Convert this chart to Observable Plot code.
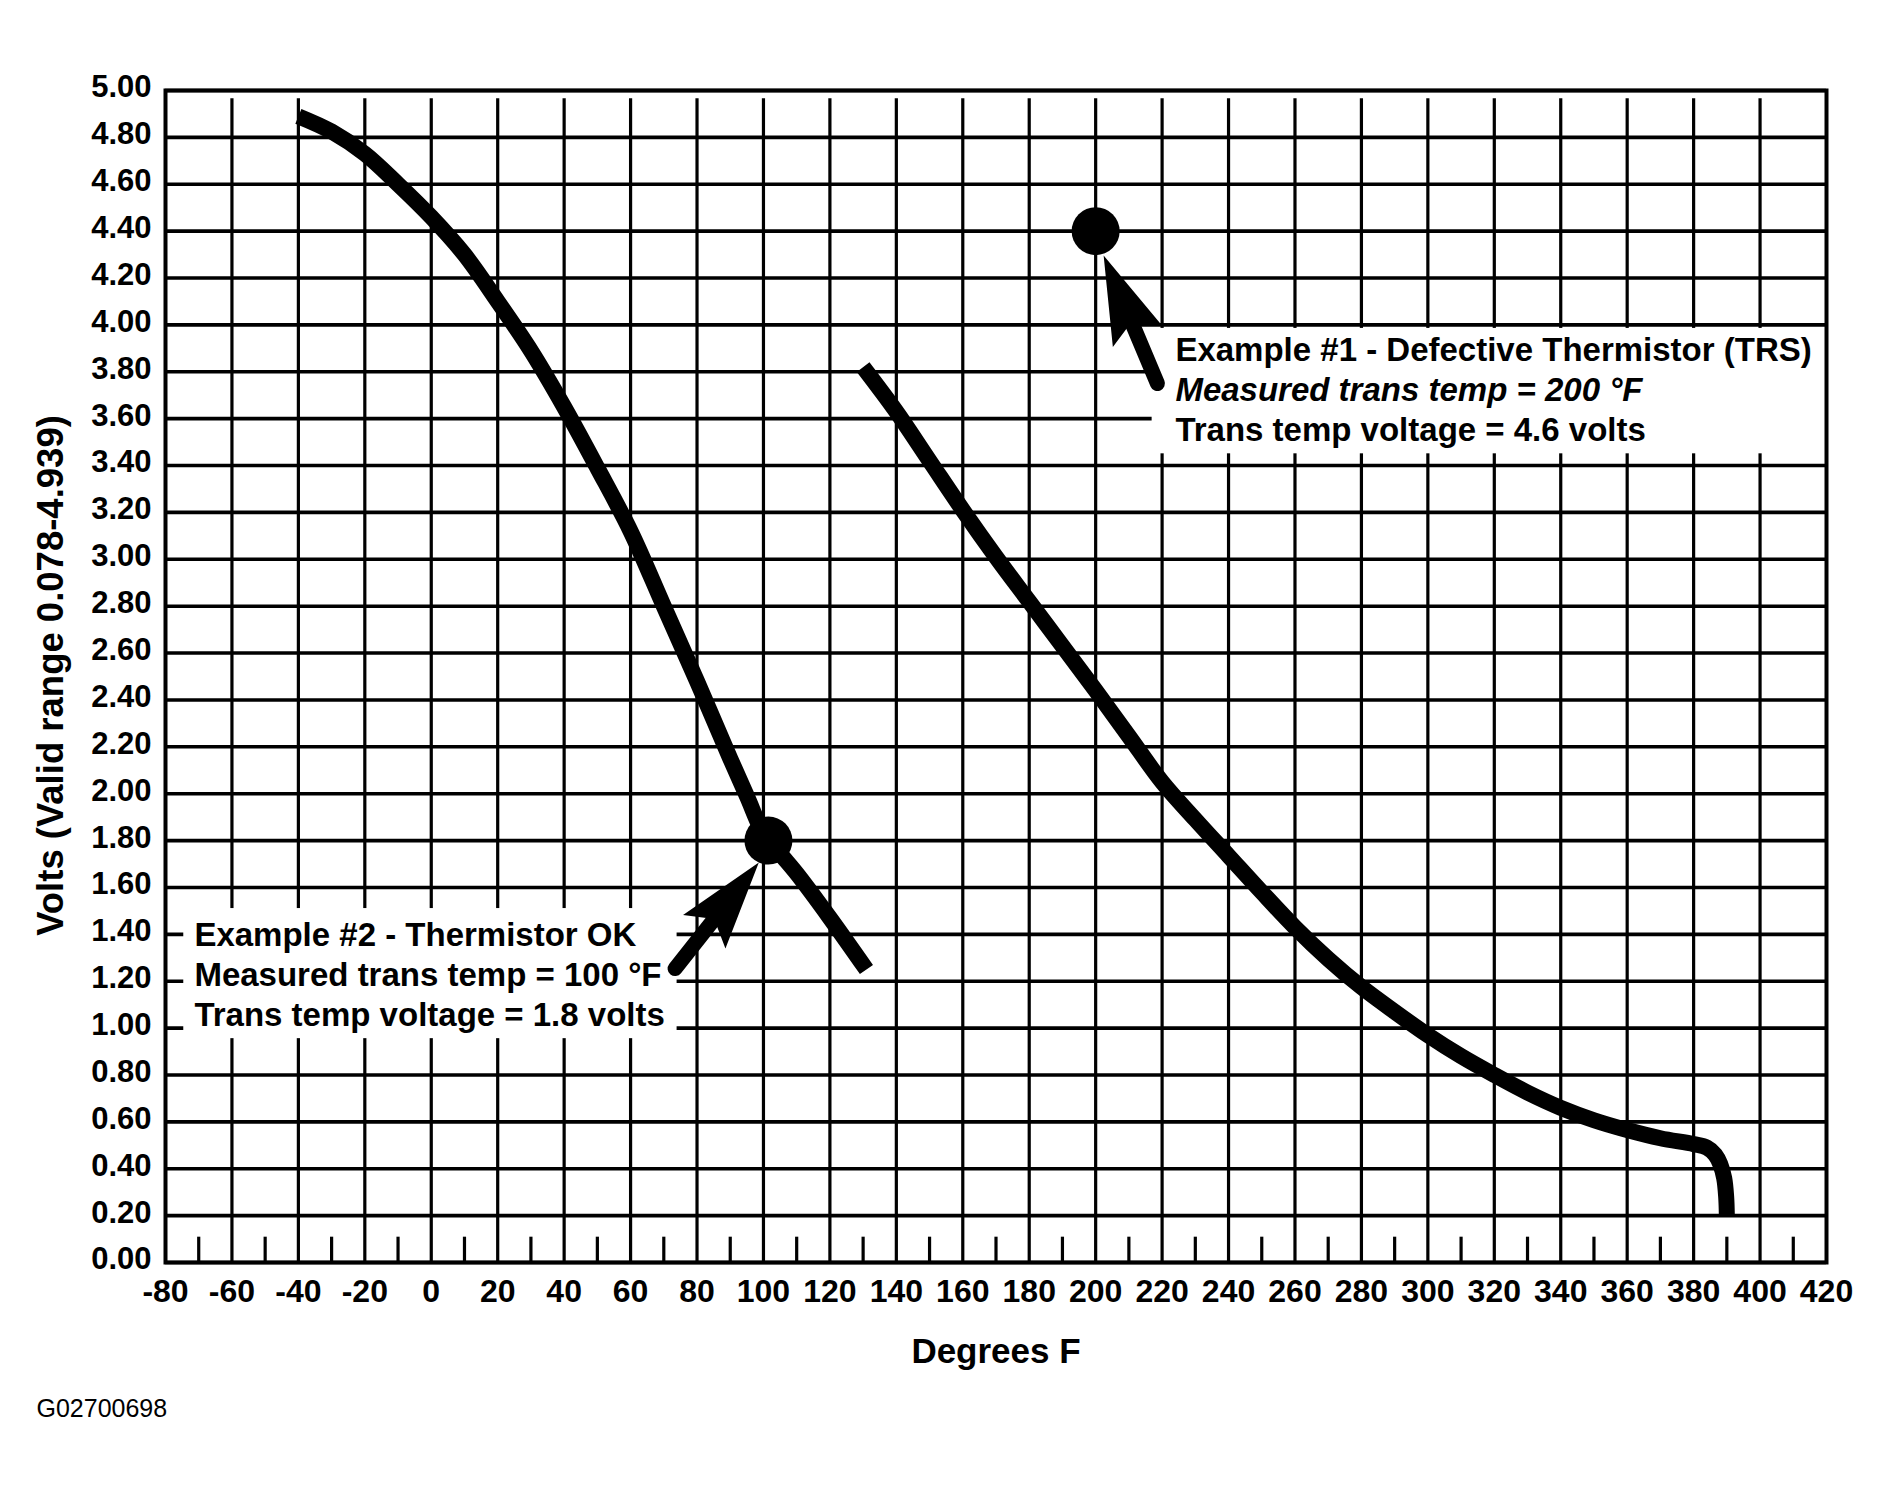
<!DOCTYPE html>
<html>
<head>
<meta charset="utf-8">
<style>
html, body { margin: 0; padding: 0; background: #fff; overflow: hidden; }
</style>
<script src="https://cdn.jsdelivr.net/npm/d3@7"></script>
<script src="https://cdn.jsdelivr.net/npm/@observablehq/plot@0.6"></script>
</head>
<body>
<div id="chart"></div>
<script>
// ---------- data ----------
const xTicks = [-80, -60, -40, -20, 0, 20, 40, 60, 80, 100, 120, 140, 160, 180, 200, 220, 240, 260, 280, 300, 320, 340, 360, 380, 400, 420];
const xGrid = [-60, -40, -20, 0, 20, 40, 60, 80, 100, 120, 140, 160, 180, 200, 220, 240, 260, 280, 300, 320, 340, 360, 380, 400];
const xMinor = [-70, -50, -30, -10, 10, 30, 50, 70, 90, 110, 130, 150, 170, 190, 210, 230, 250, 270, 290, 310, 330, 350, 370, 390, 410];
const yTicks = [0, 0.2, 0.4, 0.6, 0.8, 1.0, 1.2, 1.4, 1.6, 1.8, 2.0, 2.2, 2.4, 2.6, 2.8, 3.0, 3.2, 3.4, 3.6, 3.8, 4.0, 4.2, 4.4, 4.6, 4.8, 5.0];

// Left curve (Example #2 - thermistor OK)
const okTemp  = [-40, -30, -20, -10, 0, 10, 20, 30, 40, 50, 60, 70, 80, 90, 95, 100, 102, 105, 110, 120, 131];
const okVolts = [4.89, 4.825, 4.73, 4.60, 4.46, 4.30, 4.10, 3.89, 3.65, 3.39, 3.12, 2.80, 2.48, 2.15, 1.99, 1.83, 1.80, 1.745, 1.66, 1.47, 1.25];

// Right curve (Example #1 - defective thermistor)
const badTemp  = [130, 140, 150, 160, 170, 180, 190, 200, 210, 220, 230, 240, 250, 260, 270, 280, 290, 300, 310, 320, 330, 340, 350, 360, 370, 380, 384, 386.5, 388, 389.2, 389.8, 390];
const badVolts = [3.82, 3.63, 3.42, 3.21, 3.01, 2.82, 2.63, 2.44, 2.245, 2.05, 1.89, 1.735, 1.58, 1.43, 1.295, 1.175, 1.07, 0.97, 0.88, 0.80, 0.725, 0.66, 0.607, 0.565, 0.53, 0.505, 0.49, 0.46, 0.42, 0.36, 0.28, 0.20];

// Example points
const exampleTemp  = [200, 101.5];
const exampleVolts = [4.40, 1.80];

// Arrows (tail -> tip)
const arrowTailTemp  = [218.6, 73.4];
const arrowTailVolts = [3.75, 1.254];
const arrowTipTemp   = [202.4, 98.6];
const arrowTipVolts  = [4.296, 1.706];

// Annotation texts
const note1Lines = ["Example #1 - Defective Thermistor (TRS)", "Measured trans temp = 200 °F", "Trans temp voltage = 4.6 volts"];
const note2Lines = ["Example #2 - Thermistor OK", "Measured trans temp = 100 °F", "Trans temp voltage = 1.8 volts"];
const yTitle = "Volts (Valid range 0.078-4.939)";
const xTitle = "Degrees F";
const figId = "G02700698";

// ---------- layout ----------
const W = 1887, H = 1492;
const FONT = "'Liberation Sans', Arial, Helvetica, sans-serif";
const base = {
  width: W, height: H,
  marginLeft: 165, marginRight: 61, marginTop: 90, marginBottom: 230,
  x: {domain: [-80, 420]},
  y: {domain: [0, 5]},
  style: {fontFamily: FONT, background: "white", color: "black"}
};
const note1Anchor = {x: 224, y: 3.848};
const note2Anchor = {x: -71.3, y: 1.352};
const box1 = {x1: 217, x2: 420, y1: 3.45, y2: 3.985};
const box2 = {x1: -74.5, x2: 74, y1: 0.955, y2: 1.51};

// probe plot to obtain scales for arrow geometry
const probe = Plot.plot({...base, marks: [Plot.ruleX(xTicks), Plot.ruleY(yTicks)]});
const sx = probe.scale("x"), sy = probe.scale("y");

const HEAD_LEN = 88, HEAD_HALF = 27, NOTCH = 72;
function makeHead(ux, uy) {
  const px = -uy, py = ux; // perpendicular
  const pt = (a, p) => [-ux * a + px * p, -uy * a + py * p];
  return {
    draw(ctx) {
      const t = pt(0, 0), l = pt(HEAD_LEN, -HEAD_HALF), n = pt(NOTCH, 0), r = pt(HEAD_LEN, HEAD_HALF);
      ctx.moveTo(t[0], t[1]);
      ctx.lineTo(l[0], l[1]);
      ctx.lineTo(n[0], n[1]);
      ctx.lineTo(r[0], r[1]);
      ctx.closePath();
    }
  };
}

const arrowRows = arrowTailTemp.map((t, i) => {
  const ax = sx.apply(t), ay = sy.apply(arrowTailVolts[i]);
  const bx = sx.apply(arrowTipTemp[i]), by = sy.apply(arrowTipVolts[i]);
  const len = Math.hypot(bx - ax, by - ay);
  const ux = (bx - ax) / len, uy = (by - ay) / len;
  const ex = bx - ux * (NOTCH - 8), ey = by - uy * (NOTCH - 8);
  return {
    tt: t, tv: arrowTailVolts[i],
    pt: arrowTipTemp[i], pv: arrowTipVolts[i],
    et: sx.invert(ex), ev: sy.invert(ey),
    head: makeHead(ux, uy)
  };
});

const okRows = okTemp.map((t, i) => ({t, v: okVolts[i]}));
const badRows = badTemp.map((t, i) => ({t, v: badVolts[i]}));
const exampleRows = exampleTemp.map((t, i) => ({t, v: exampleVolts[i]}));

const noteMarks = (lines, anchor, italicIdx) => lines.map((s, i) =>
  Plot.text([s], {
    x: anchor.x, y: anchor.y, text: d => d, dy: i * 40,
    textAnchor: "start", lineAnchor: "bottom",
    fontSize: 33, fontWeight: "bold",
    fontStyle: i === italicIdx ? "italic" : "normal",
    fill: "black"
  })
);

const chart = Plot.plot({
  ...base,
  marks: [
    // grid
    Plot.ruleX(xGrid, {y1: 0, y2: 4.965, strokeWidth: 3.2, stroke: "black"}),
    Plot.ruleY(yTicks, {strokeWidth: 3.6, stroke: "black"}),
    Plot.ruleX(xMinor, {y1: 0, y2: 0.108, strokeWidth: 3.2, stroke: "black"}),
    // annotation backgrounds
    Plot.rect([box1, box2], {x1: "x1", x2: "x2", y1: "y1", y2: "y2", fill: "white"}),
    // curves
    Plot.line(okRows, {x: "t", y: "v", stroke: "black", strokeWidth: 16, curve: "catmull-rom", strokeLinecap: "butt"}),
    Plot.line(badRows, {x: "t", y: "v", stroke: "black", strokeWidth: 16, curve: "catmull-rom", strokeLinecap: "butt"}),
    // example points
    Plot.dot(exampleRows, {x: "t", y: "v", r: 24, fill: "black", stroke: "none"}),
    // arrows
    Plot.link(arrowRows, {x1: "tt", y1: "tv", x2: "et", y2: "ev", stroke: "black", strokeWidth: 15, strokeLinecap: "round"}),
    ...arrowRows.map(a => Plot.dot([a], {x: "pt", y: "pv", symbol: a.head, r: 10, fill: "black", stroke: "none"})),
    // annotation texts
    ...noteMarks(note1Lines, note1Anchor, 1),
    ...noteMarks(note2Lines, note2Anchor, -1),
    // axes
    Plot.axisY(yTicks, {tickSize: 0, tickPadding: 14, tickFormat: d => d.toFixed(2), fontSize: 31, fontWeight: "bold", label: null, dy: -3}),
    Plot.axisX(xTicks, {tickSize: 0, tickPadding: 17, tickFormat: d => String(d), fontSize: 32, fontWeight: "bold", label: null}),
    // titles
    Plot.text([yTitle], {frameAnchor: "left", rotate: -90, dx: -114, dy: -1, textAnchor: "middle", lineAnchor: "middle", fontSize: 36.5, fontWeight: "bold", fill: "black"}),
    Plot.text([xTitle], {frameAnchor: "bottom", dy: 100, textAnchor: "middle", lineAnchor: "bottom", fontSize: 35, fontWeight: "bold", fill: "black"}),
    Plot.text([figId], {frameAnchor: "bottom-left", dx: -129, dy: 154, textAnchor: "start", lineAnchor: "bottom", fontSize: 25, fontWeight: "normal", fill: "black"}),
    // frame
    Plot.frame({stroke: "black", strokeWidth: 4})
  ]
});
document.getElementById("chart").appendChild(chart);
</script>
</body>
</html>
